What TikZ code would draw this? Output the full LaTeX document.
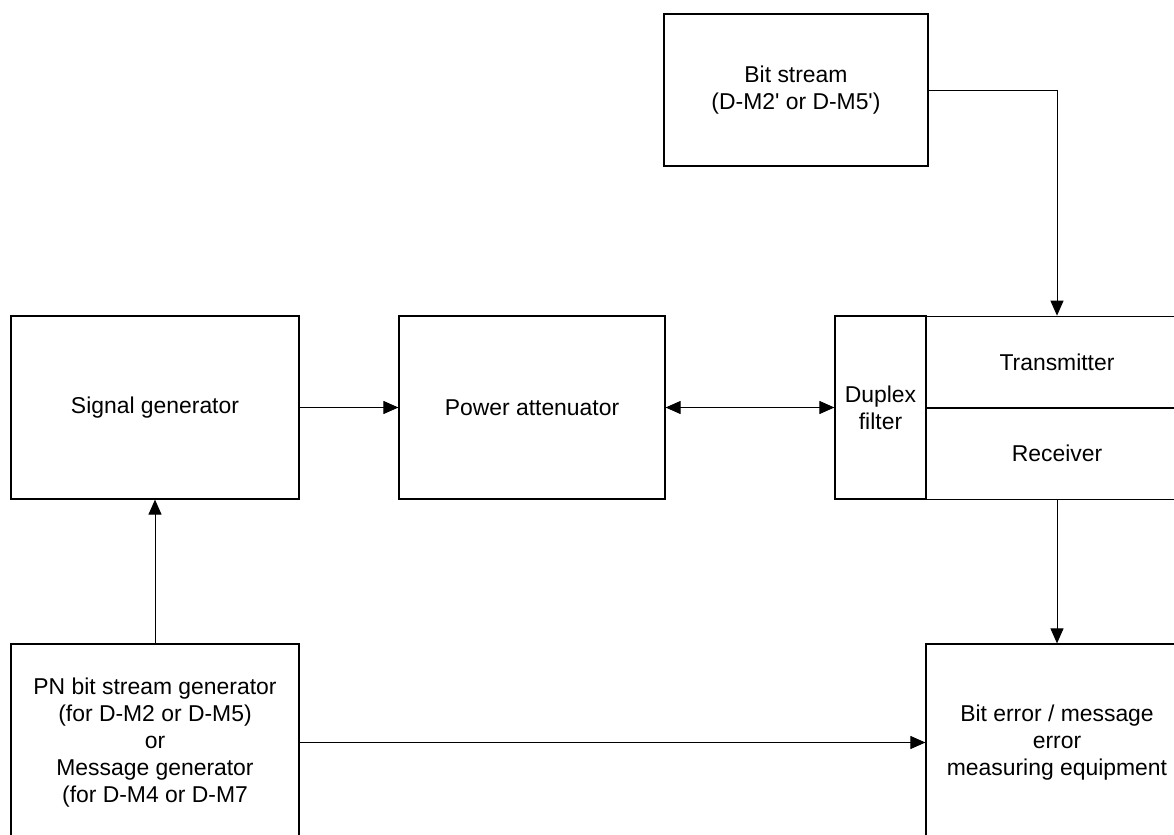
\documentclass[tikz,border=0pt]{standalone}
\usepackage{fontspec}
\setmainfont{Liberation Sans}
\usetikzlibrary{arrows.meta}

\begin{document}
\begin{tikzpicture}[x=0.5pt, y=-0.5pt,
        blk/.style = {draw, line width=0.6pt, inner sep=0pt, align=center,
                      font=\fontsize{11.45}{13.5}\selectfont},
        arr/.style = {line width=0.5pt, -{Triangle[length=7.5pt, width=6.5pt]}},
        darr/.style = {line width=0.5pt, {Triangle[length=7.5pt, width=6.5pt]}-{Triangle[length=7.5pt, width=6.5pt]}}]
        \useasboundingbox (0, 0) rectangle (1174, 835);
        \node (bits) at (796, 90) [blk, minimum width=132pt, minimum height=76pt] {Bit stream\\(D-M2\textquotesingle{} or D-M5\textquotesingle)};
        \node (siggen) at (155, 407.5) [blk, minimum width=144pt, minimum height=91.5pt] {Signal generator};
        \node (atten) at (532, 407.5) [blk, minimum width=133pt, minimum height=91.5pt] {Power attenuator};
        \node (duplex) at (880.5, 407.5) [blk, minimum width=45.5pt, minimum height=91.5pt] {Duplex\\filter};
        \node (trans) at (1057, 362) [blk, minimum width=131pt, minimum height=45.75pt] {Transmitter};
        \node (recv) at (1057, 453.75) [blk, minimum width=131pt, minimum height=45.75pt] {Receiver};
        \node (pngen) at (155, 742.5) [blk, minimum width=144pt, minimum height=98.5pt] {PN bit stream generator\\(for D-M2 or D-M5)\\or\\Message generator\\(for D-M4 or D-M7};
        \node (bitmeas) at (1057, 742.5) [blk, minimum width=131pt, minimum height=98.5pt] {Bit error / message\\error\\measuring equipment};
        \draw [arr] (siggen) -- (atten);
        \draw [darr] (atten) -- (duplex);
        \draw [arr] (bits.east) -| (trans.north);
        \draw [arr] (recv.south) -- (bitmeas.north);
        \draw [arr] (pngen.north) -- (siggen.south);
        \draw [arr] (pngen.east) -- (bitmeas.west);
    \end{tikzpicture}
\end{document}
